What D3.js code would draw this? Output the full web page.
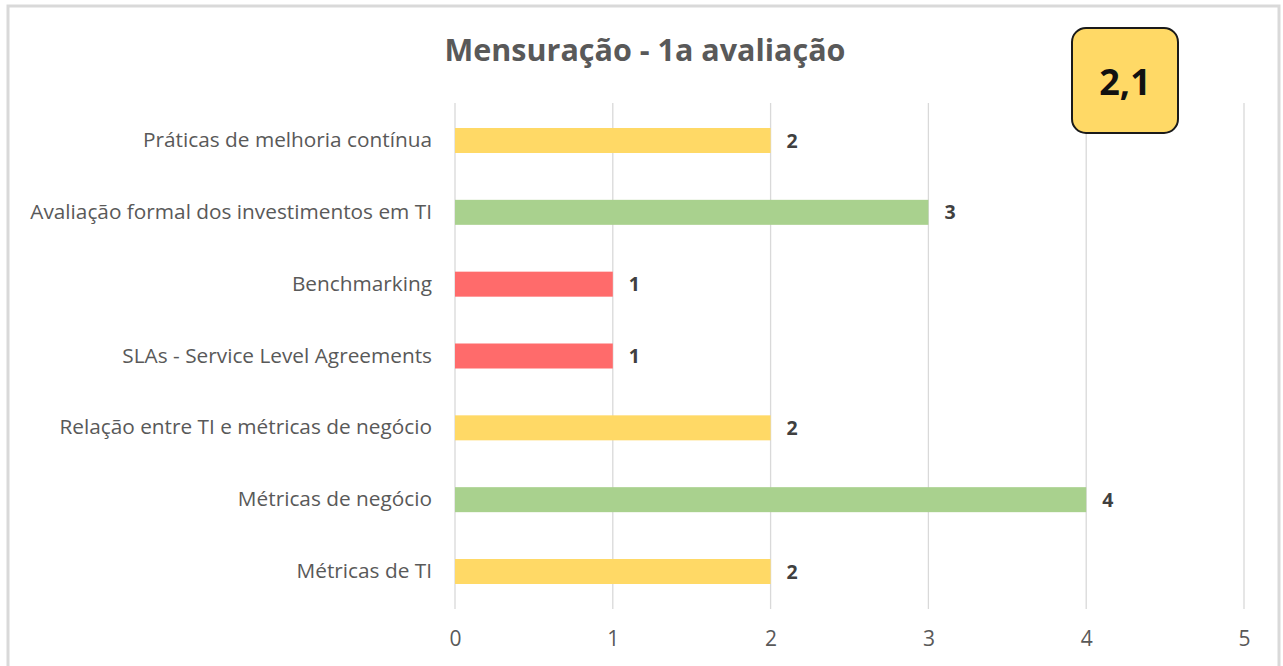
<!DOCTYPE html>
<html><head><meta charset="utf-8">
<script src="https://cdn.jsdelivr.net/npm/d3@7"></script>
<style>body{margin:0;background:#fff;} svg{display:block;}</style>
</head><body>
<svg id="chart" width="1283" height="666"></svg>
<script>
const categories = ["Práticas de melhoria contínua","Avaliação formal dos investimentos em TI","Benchmarking","SLAs - Service Level Agreements","Relação entre TI e métricas de negócio","Métricas de negócio","Métricas de TI"];
const values = [2,3,1,1,2,4,2];
const barColors = ["#FFD966","#A9D18E","#FF6B6B","#FF6B6B","#FFD966","#A9D18E","#FFD966"];
const xTicks = [0,1,2,3,4,5];
const title = "Mensuração - 1a avaliação";
const scoreText = "2,1";

const svg = d3.select("#chart");
const font = "'Open Sans', sans-serif";
svg.append("rect").attr("x",8).attr("y",6).attr("width",1271).attr("height",680)
  .attr("fill","#fff").attr("stroke","#D9D9D9").attr("stroke-width",3);

const x = d3.scaleLinear().domain([0,5]).range([455,1244]);
const y = d3.scaleBand().domain(categories).range([103,609]).paddingInner(0.652).paddingOuter(0.348);

svg.append("g").selectAll("line").data(xTicks).join("line")
  .attr("x1",d=>x(d)).attr("x2",d=>x(d)).attr("y1",103).attr("y2",609)
  .attr("stroke","#D9D9D9").attr("stroke-width",1.3);

const xAxis = svg.append("g").attr("transform","translate(0,609)")
  .call(d3.axisBottom(x).tickValues(xTicks).tickSize(0).tickPadding(22).tickFormat(d3.format("d")));
xAxis.select(".domain").remove();
xAxis.selectAll("text").attr("font-family",font).attr("font-size",21).attr("fill","#595959");

const yAxis = svg.append("g").attr("transform","translate(455,0)")
  .call(d3.axisLeft(y).tickSize(0).tickPadding(23));
yAxis.select(".domain").remove();
yAxis.selectAll("text").attr("font-family",font).attr("font-size",20.8).attr("fill","#595959");

svg.append("g").selectAll("rect").data(values).join("rect")
  .attr("x",x(0)).attr("y",(d,i)=>y(categories[i])).attr("width",d=>x(d)-x(0))
  .attr("height",y.bandwidth()).attr("fill",(d,i)=>barColors[i]);

svg.append("g").selectAll("text").data(values).join("text")
  .attr("x",d=>x(d)+16).attr("y",(d,i)=>y(categories[i])+y.bandwidth()/2)
  .attr("dy","0.36em").attr("font-family",font).attr("font-weight","bold").attr("font-size",19.5)
  .attr("fill","#404040").text(d=>d);

svg.append("text").attr("x",645).attr("y",61).attr("text-anchor","middle")
  .attr("font-family",font).attr("font-weight","bold").attr("font-size",30.5).attr("fill","#595959").text(title);

svg.append("rect").attr("x",1072).attr("y",28).attr("width",106).attr("height",105).attr("rx",14)
  .attr("fill","#FFD966").attr("stroke","#1a1a1a").attr("stroke-width",2);
svg.append("text").attr("x",1125).attr("y",82).attr("dy","0.35em").attr("text-anchor","middle")
  .attr("font-family",font).attr("font-weight","bold").attr("font-size",36).attr("fill","#111").text(scoreText);
</script>
</body></html>
